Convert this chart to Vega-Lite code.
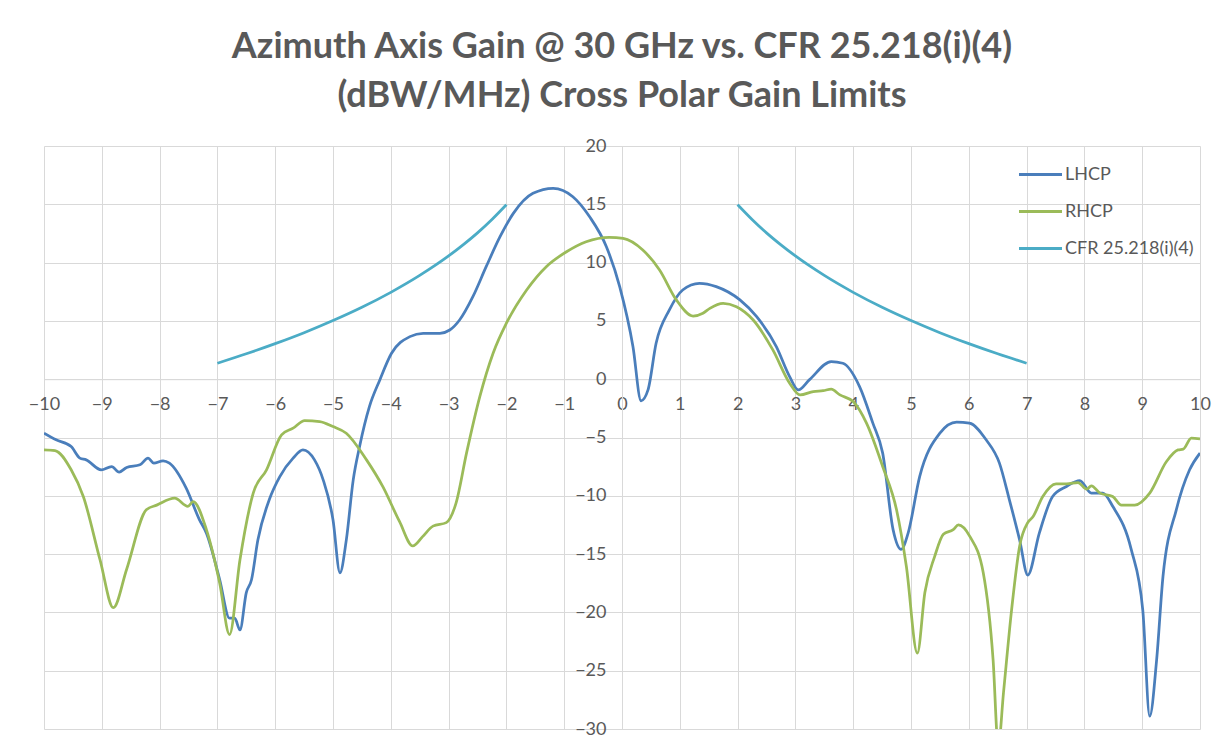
{
  "$schema": "https://vega.github.io/schema/vega-lite/v6.json",
  "width": 1156,
  "height": 583,
  "autosize": {"type": "none"},
  "padding": {"left": 44, "top": 146, "right": 20, "bottom": 20},
  "background": "white",
  "title": {
    "text": ["Azimuth Axis Gain @ 30 GHz vs. CFR 25.218(i)(4)", "(dBW/MHz) Cross Polar Gain Limits"],
    "font": "Lato",
    "fontSize": 36,
    "fontWeight": "bold",
    "color": "#595959",
    "lineHeight": 49,
    "anchor": "middle",
    "offset": 22
  },
  "config": {"view": {"stroke": null}},
  "datasets": {
    "d": [
      {"s":"LHCP","seg":"L","x":-10,"y":-4.63},{"s":"LHCP","seg":"L","x":-9.79,"y":-5.2},{"s":"LHCP","seg":"L","x":-9.53,"y":-5.78},{"s":"LHCP","seg":"L","x":-9.38,"y":-6.77},{"s":"LHCP","seg":"L","x":-9.27,"y":-6.92},{"s":"LHCP","seg":"L","x":-9.01,"y":-7.77},{"s":"LHCP","seg":"L","x":-8.83,"y":-7.49},{"s":"LHCP","seg":"L","x":-8.7,"y":-7.97},{"s":"LHCP","seg":"L","x":-8.57,"y":-7.57},{"s":"LHCP","seg":"L","x":-8.34,"y":-7.34},{"s":"LHCP","seg":"L","x":-8.2,"y":-6.77},{"s":"LHCP","seg":"L","x":-8.1,"y":-7.2},{"s":"LHCP","seg":"L","x":-7.94,"y":-7.0},{"s":"LHCP","seg":"L","x":-7.83,"y":-7.2},{"s":"LHCP","seg":"L","x":-7.54,"y":-9.34},{"s":"LHCP","seg":"L","x":-7.31,"y":-12.06},{"s":"LHCP","seg":"L","x":-7.19,"y":-13.2},{"s":"LHCP","seg":"L","x":-6.96,"y":-17.2},{"s":"LHCP","seg":"L","x":-6.79,"y":-20.5},{"s":"LHCP","seg":"L","x":-6.7,"y":-20.5},{"s":"LHCP","seg":"L","x":-6.61,"y":-21.5},{"s":"LHCP","seg":"L","x":-6.5,"y":-18.3},{"s":"LHCP","seg":"L","x":-6.41,"y":-17.2},{"s":"LHCP","seg":"L","x":-6.3,"y":-13.8},{"s":"LHCP","seg":"L","x":-6.1,"y":-10.3},{"s":"LHCP","seg":"L","x":-5.92,"y":-8.35},{"s":"LHCP","seg":"L","x":-5.69,"y":-6.77},{"s":"LHCP","seg":"L","x":-5.52,"y":-6.06},{"s":"LHCP","seg":"L","x":-5.32,"y":-6.92},{"s":"LHCP","seg":"L","x":-5.17,"y":-8.63},{"s":"LHCP","seg":"L","x":-5.0,"y":-12.06},{"s":"LHCP","seg":"L","x":-4.88,"y":-16.6},{"s":"LHCP","seg":"L","x":-4.77,"y":-13.8},{"s":"LHCP","seg":"L","x":-4.65,"y":-8.63},{"s":"LHCP","seg":"L","x":-4.54,"y":-5.77},{"s":"LHCP","seg":"L","x":-4.37,"y":-2.35},{"s":"LHCP","seg":"L","x":-4.19,"y":-0.06},{"s":"LHCP","seg":"L","x":-3.99,"y":2.2},{"s":"LHCP","seg":"L","x":-3.67,"y":3.65},{"s":"LHCP","seg":"L","x":-3.44,"y":3.94},{"s":"LHCP","seg":"L","x":-3.15,"y":3.94},{"s":"LHCP","seg":"L","x":-2.98,"y":4.22},{"s":"LHCP","seg":"L","x":-2.81,"y":5.08},{"s":"LHCP","seg":"L","x":-2.58,"y":7.08},{"s":"LHCP","seg":"L","x":-2.35,"y":9.65},{"s":"LHCP","seg":"L","x":-2.11,"y":12.22},{"s":"LHCP","seg":"L","x":-1.88,"y":14.22},{"s":"LHCP","seg":"L","x":-1.54,"y":15.94},{"s":"LHCP","seg":"L","x":-1.19,"y":16.37},{"s":"LHCP","seg":"L","x":-0.85,"y":15.65},{"s":"LHCP","seg":"L","x":-0.56,"y":13.93},{"s":"LHCP","seg":"L","x":-0.27,"y":11.36},{"s":"LHCP","seg":"L","x":-0.04,"y":7.94},{"s":"LHCP","seg":"L","x":0.19,"y":2.79},{"s":"LHCP","seg":"L","x":0.33,"y":-1.85},{"s":"LHCP","seg":"L","x":0.45,"y":-0.92},{"s":"LHCP","seg":"L","x":0.59,"y":3.08},{"s":"LHCP","seg":"L","x":0.82,"y":5.94},{"s":"LHCP","seg":"L","x":1.05,"y":7.65},{"s":"LHCP","seg":"L","x":1.34,"y":8.22},{"s":"LHCP","seg":"L","x":1.63,"y":7.94},{"s":"LHCP","seg":"L","x":2.04,"y":6.8},{"s":"LHCP","seg":"L","x":2.33,"y":5.36},{"s":"LHCP","seg":"L","x":2.67,"y":2.79},{"s":"LHCP","seg":"L","x":2.9,"y":0.22},{"s":"LHCP","seg":"L","x":3.05,"y":-0.92},{"s":"LHCP","seg":"L","x":3.24,"y":-0.06},{"s":"LHCP","seg":"L","x":3.62,"y":1.51},{"s":"LHCP","seg":"L","x":3.82,"y":1.37},{"s":"LHCP","seg":"L","x":4.11,"y":-0.63},{"s":"LHCP","seg":"L","x":4.34,"y":-3.77},{"s":"LHCP","seg":"L","x":4.51,"y":-6.34},{"s":"LHCP","seg":"L","x":4.69,"y":-12.9},{"s":"LHCP","seg":"L","x":4.83,"y":-14.6},{"s":"LHCP","seg":"L","x":4.95,"y":-13.2},{"s":"LHCP","seg":"L","x":5.15,"y":-8.35},{"s":"LHCP","seg":"L","x":5.5,"y":-4.63},{"s":"LHCP","seg":"L","x":5.79,"y":-3.69},{"s":"LHCP","seg":"L","x":6.01,"y":-3.77},{"s":"LHCP","seg":"L","x":6.3,"y":-5.2},{"s":"LHCP","seg":"L","x":6.53,"y":-7.2},{"s":"LHCP","seg":"L","x":6.7,"y":-10.3},{"s":"LHCP","seg":"L","x":6.88,"y":-13.8},{"s":"LHCP","seg":"L","x":7.02,"y":-16.8},{"s":"LHCP","seg":"L","x":7.22,"y":-13.2},{"s":"LHCP","seg":"L","x":7.45,"y":-10.06},{"s":"LHCP","seg":"L","x":7.69,"y":-9.2},{"s":"LHCP","seg":"L","x":7.92,"y":-8.69},{"s":"LHCP","seg":"L","x":8.12,"y":-9.77},{"s":"LHCP","seg":"L","x":8.32,"y":-9.77},{"s":"LHCP","seg":"L","x":8.49,"y":-10.9},{"s":"LHCP","seg":"L","x":8.81,"y":-14.6},{"s":"LHCP","seg":"L","x":9.01,"y":-19.8},{"s":"LHCP","seg":"L","x":9.13,"y":-28.9},{"s":"LHCP","seg":"L","x":9.25,"y":-24.05},{"s":"LHCP","seg":"L","x":9.36,"y":-16.9},{"s":"LHCP","seg":"L","x":9.59,"y":-11.2},{"s":"LHCP","seg":"L","x":9.82,"y":-7.77},{"s":"LHCP","seg":"L","x":10.0,"y":-6.34},
      {"s":"RHCP","seg":"R","x":-10,"y":-6.06},{"s":"RHCP","seg":"R","x":-9.81,"y":-6.12},{"s":"RHCP","seg":"R","x":-9.53,"y":-7.77},{"s":"RHCP","seg":"R","x":-9.32,"y":-10.06},{"s":"RHCP","seg":"R","x":-9.03,"y":-15.5},{"s":"RHCP","seg":"R","x":-8.8,"y":-19.6},{"s":"RHCP","seg":"R","x":-8.57,"y":-16.3},{"s":"RHCP","seg":"R","x":-8.23,"y":-11.2},{"s":"RHCP","seg":"R","x":-8.05,"y":-10.8},{"s":"RHCP","seg":"R","x":-7.74,"y":-10.2},{"s":"RHCP","seg":"R","x":-7.51,"y":-10.9},{"s":"RHCP","seg":"R","x":-7.42,"y":-10.5},{"s":"RHCP","seg":"R","x":-7.19,"y":-12.9},{"s":"RHCP","seg":"R","x":-6.96,"y":-17.5},{"s":"RHCP","seg":"R","x":-6.79,"y":-21.9},{"s":"RHCP","seg":"R","x":-6.61,"y":-15.5},{"s":"RHCP","seg":"R","x":-6.38,"y":-9.77},{"s":"RHCP","seg":"R","x":-6.15,"y":-7.77},{"s":"RHCP","seg":"R","x":-5.89,"y":-4.77},{"s":"RHCP","seg":"R","x":-5.69,"y":-4.2},{"s":"RHCP","seg":"R","x":-5.49,"y":-3.55},{"s":"RHCP","seg":"R","x":-5.23,"y":-3.63},{"s":"RHCP","seg":"R","x":-5.0,"y":-4.06},{"s":"RHCP","seg":"R","x":-4.77,"y":-4.63},{"s":"RHCP","seg":"R","x":-4.42,"y":-6.92},{"s":"RHCP","seg":"R","x":-4.14,"y":-9.2},{"s":"RHCP","seg":"R","x":-3.85,"y":-12.2},{"s":"RHCP","seg":"R","x":-3.62,"y":-14.3},{"s":"RHCP","seg":"R","x":-3.45,"y":-13.5},{"s":"RHCP","seg":"R","x":-3.27,"y":-12.6},{"s":"RHCP","seg":"R","x":-3.04,"y":-12.3},{"s":"RHCP","seg":"R","x":-2.87,"y":-10.6},{"s":"RHCP","seg":"R","x":-2.69,"y":-6.34},{"s":"RHCP","seg":"R","x":-2.46,"y":-1.49},{"s":"RHCP","seg":"R","x":-2.23,"y":2.23},{"s":"RHCP","seg":"R","x":-2.0,"y":4.8},{"s":"RHCP","seg":"R","x":-1.65,"y":7.65},{"s":"RHCP","seg":"R","x":-1.31,"y":9.65},{"s":"RHCP","seg":"R","x":-0.96,"y":10.93},{"s":"RHCP","seg":"R","x":-0.62,"y":11.79},{"s":"RHCP","seg":"R","x":-0.22,"y":12.17},{"s":"RHCP","seg":"R","x":0.02,"y":12.08},{"s":"RHCP","seg":"R","x":0.36,"y":11.08},{"s":"RHCP","seg":"R","x":0.65,"y":9.37},{"s":"RHCP","seg":"R","x":0.94,"y":6.8},{"s":"RHCP","seg":"R","x":1.23,"y":5.42},{"s":"RHCP","seg":"R","x":1.4,"y":5.65},{"s":"RHCP","seg":"R","x":1.52,"y":6.08},{"s":"RHCP","seg":"R","x":1.75,"y":6.51},{"s":"RHCP","seg":"R","x":1.98,"y":6.22},{"s":"RHCP","seg":"R","x":2.27,"y":5.08},{"s":"RHCP","seg":"R","x":2.61,"y":2.51},{"s":"RHCP","seg":"R","x":2.9,"y":-0.34},{"s":"RHCP","seg":"R","x":3.08,"y":-1.35},{"s":"RHCP","seg":"R","x":3.31,"y":-1.06},{"s":"RHCP","seg":"R","x":3.48,"y":-0.98},{"s":"RHCP","seg":"R","x":3.62,"y":-0.86},{"s":"RHCP","seg":"R","x":3.77,"y":-1.35},{"s":"RHCP","seg":"R","x":4.0,"y":-1.92},{"s":"RHCP","seg":"R","x":4.23,"y":-3.77},{"s":"RHCP","seg":"R","x":4.51,"y":-7.49},{"s":"RHCP","seg":"R","x":4.75,"y":-11.2},{"s":"RHCP","seg":"R","x":4.92,"y":-16.06},{"s":"RHCP","seg":"R","x":5.11,"y":-23.5},{"s":"RHCP","seg":"R","x":5.24,"y":-18.3},{"s":"RHCP","seg":"R","x":5.41,"y":-15.2},{"s":"RHCP","seg":"R","x":5.56,"y":-13.3},{"s":"RHCP","seg":"R","x":5.73,"y":-12.9},{"s":"RHCP","seg":"R","x":5.82,"y":-12.5},{"s":"RHCP","seg":"R","x":6.02,"y":-13.5},{"s":"RHCP","seg":"R","x":6.25,"y":-16.6},{"s":"RHCP","seg":"R","x":6.42,"y":-24.05},{"s":"RHCP","seg":"R","x":6.51,"y":-31.5},{"s":"RHCP","seg":"R","x":6.6,"y":-26.9},{"s":"RHCP","seg":"R","x":6.74,"y":-19.8},{"s":"RHCP","seg":"R","x":6.88,"y":-14.3},{"s":"RHCP","seg":"R","x":7.02,"y":-12.3},{"s":"RHCP","seg":"R","x":7.11,"y":-11.8},{"s":"RHCP","seg":"R","x":7.28,"y":-10.06},{"s":"RHCP","seg":"R","x":7.51,"y":-8.97},{"s":"RHCP","seg":"R","x":7.69,"y":-8.97},{"s":"RHCP","seg":"R","x":7.89,"y":-8.86},{"s":"RHCP","seg":"R","x":8.04,"y":-9.43},{"s":"RHCP","seg":"R","x":8.12,"y":-9.14},{"s":"RHCP","seg":"R","x":8.27,"y":-9.77},{"s":"RHCP","seg":"R","x":8.49,"y":-10.06},{"s":"RHCP","seg":"R","x":8.64,"y":-10.8},{"s":"RHCP","seg":"R","x":8.87,"y":-10.8},{"s":"RHCP","seg":"R","x":9.13,"y":-9.77},{"s":"RHCP","seg":"R","x":9.42,"y":-7.06},{"s":"RHCP","seg":"R","x":9.62,"y":-6.06},{"s":"RHCP","seg":"R","x":9.71,"y":-6.0},{"s":"RHCP","seg":"R","x":9.85,"y":-5.06},{"s":"RHCP","seg":"R","x":10.0,"y":-5.12},
      {"s":"CFR 25.218(i)(4)","seg":"Ca","x":-7,"y":1.37},{"s":"CFR 25.218(i)(4)","seg":"Ca","x":-6.5,"y":2.18},{"s":"CFR 25.218(i)(4)","seg":"Ca","x":-6,"y":3.05},{"s":"CFR 25.218(i)(4)","seg":"Ca","x":-5.5,"y":3.99},{"s":"CFR 25.218(i)(4)","seg":"Ca","x":-5,"y":5.03},{"s":"CFR 25.218(i)(4)","seg":"Ca","x":-4.5,"y":6.17},{"s":"CFR 25.218(i)(4)","seg":"Ca","x":-4,"y":7.45},{"s":"CFR 25.218(i)(4)","seg":"Ca","x":-3.5,"y":8.9},{"s":"CFR 25.218(i)(4)","seg":"Ca","x":-3,"y":10.57},{"s":"CFR 25.218(i)(4)","seg":"Ca","x":-2.75,"y":11.52},{"s":"CFR 25.218(i)(4)","seg":"Ca","x":-2.5,"y":12.55},{"s":"CFR 25.218(i)(4)","seg":"Ca","x":-2.25,"y":13.7},{"s":"CFR 25.218(i)(4)","seg":"Ca","x":-2,"y":14.97},
      {"s":"CFR 25.218(i)(4)","seg":"Cb","x":2,"y":14.97},{"s":"CFR 25.218(i)(4)","seg":"Cb","x":2.25,"y":13.7},{"s":"CFR 25.218(i)(4)","seg":"Cb","x":2.5,"y":12.55},{"s":"CFR 25.218(i)(4)","seg":"Cb","x":2.75,"y":11.52},{"s":"CFR 25.218(i)(4)","seg":"Cb","x":3,"y":10.57},{"s":"CFR 25.218(i)(4)","seg":"Cb","x":3.5,"y":8.9},{"s":"CFR 25.218(i)(4)","seg":"Cb","x":4,"y":7.45},{"s":"CFR 25.218(i)(4)","seg":"Cb","x":4.5,"y":6.17},{"s":"CFR 25.218(i)(4)","seg":"Cb","x":5,"y":5.03},{"s":"CFR 25.218(i)(4)","seg":"Cb","x":5.5,"y":3.99},{"s":"CFR 25.218(i)(4)","seg":"Cb","x":6,"y":3.05},{"s":"CFR 25.218(i)(4)","seg":"Cb","x":6.5,"y":2.18},{"s":"CFR 25.218(i)(4)","seg":"Cb","x":7,"y":1.37}
    ]
  },
  "data": {"name": "d"},
  "mark": {"type": "line", "strokeWidth": 2.75, "interpolate": "monotone", "clip": true},
  "encoding": {
    "x": {
      "field": "x", "type": "quantitative",
      "scale": {"domain": [-10, 10], "nice": false, "zero": false},
      "axis": {
        "orient": "bottom", "offset": -349.8, "title": null,
        "values": [-10,-9,-8,-7,-6,-5,-4,-3,-2,-1,0,1,2,3,4,5,6,7,8,9,10],
        "format": "d", "grid": true, "gridColor": "#d9d9d9", "gridWidth": 1,
        "domainColor": "#d9d9d9", "ticks": false, "tickSize": 0,
        "labelPadding": 16, "labelFont": "Lato", "labelFontSize": 18, "labelColor": "#595959",
        "labelFlush": false, "labelOverlap": false
      }
    },
    "y": {
      "field": "y", "type": "quantitative",
      "scale": {"domain": [-30, 20], "nice": false, "zero": false},
      "axis": {
        "orient": "left", "offset": -578, "title": null,
        "values": [-30,-25,-20,-15,-10,-5,0,5,10,15,20],
        "format": "d", "grid": true, "gridColor": "#d9d9d9", "gridWidth": 1,
        "domainColor": "#d9d9d9", "ticks": false, "tickSize": 0,
        "labelPadding": 16, "labelFont": "Lato", "labelFontSize": 18, "labelColor": "#595959",
        "labelFlush": false, "labelOverlap": false
      }
    },
    "color": {
      "field": "s", "type": "nominal",
      "scale": {"domain": ["LHCP", "RHCP", "CFR 25.218(i)(4)"], "range": ["#4A7EBB", "#9BBB59", "#4BACC6"]},
      "legend": {
        "orient": "none", "legendX": 973, "legendY": 5, "title": null,
        "symbolType": "stroke", "symbolSize": 1850, "symbolStrokeWidth": 3,
        "labelFont": "Lato", "labelFontSize": 18, "labelColor": "#595959",
        "rowPadding": 4, "labelOffset": 1
      }
    },
    "detail": {"field": "seg"}
  }
}
